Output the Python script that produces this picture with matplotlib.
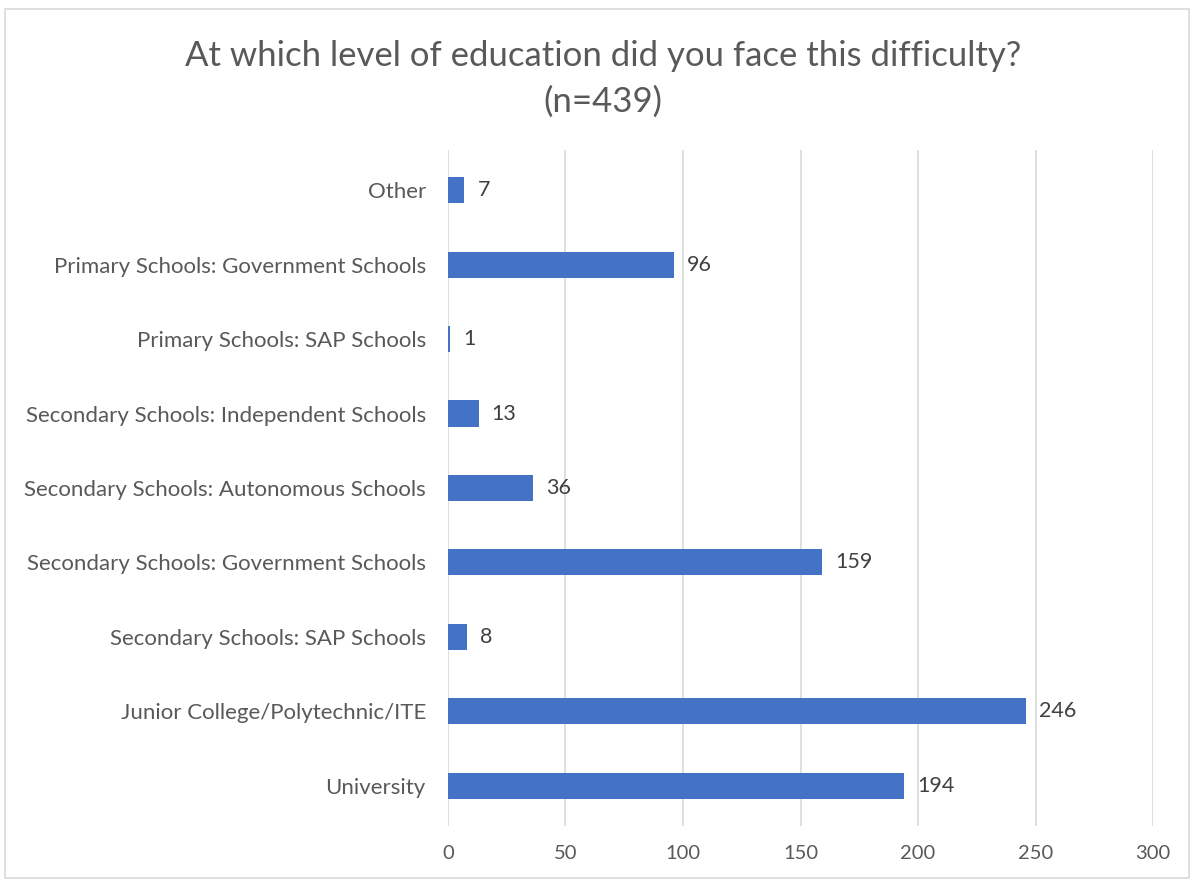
import matplotlib.pyplot as plt
from matplotlib.patches import Rectangle

categories = [
    'Other',
    'Primary Schools: Government Schools',
    'Primary Schools: SAP Schools',
    'Secondary Schools: Independent Schools',
    'Secondary Schools: Autonomous Schools',
    'Secondary Schools: Government Schools',
    'Secondary Schools: SAP Schools',
    'Junior College/Polytechnic/ITE',
    'University',
]
counts = [7, 96, 1, 13, 36, 159, 8, 246, 194]
xticks = [0, 50, 100, 150, 200, 250, 300]

plt.rcParams['font.family'] = ['Lato', 'DejaVu Sans']

fig = plt.figure(figsize=(11.94, 8.82), dpi=100)
ax = fig.add_axes([0.3752, 0.0635, 0.5905, 0.7665])

# outer chart frame
fig.patches.append(Rectangle((0.004, 0.004), 0.992, 0.986, transform=fig.transFigure,
                             fill=False, edgecolor='#d9d9d9', linewidth=1.2))

pos = list(range(len(categories)))
ax.barh(pos, counts, height=0.35, color='#4472C4', zorder=3)
for p, v in zip(pos, counts):
    ax.annotate(str(v), (v, p), xytext=(9.5, 0), textcoords='offset points',
                va='center', ha='left', fontsize=15.5, color='#404040')

ax.set_xlim(0, 300)
ax.set_ylim(len(categories) - 0.46, -0.54)
ax.set_xticks(xticks)
ax.set_yticks(pos)
ax.set_yticklabels(categories)
ax.tick_params(axis='y', length=0, pad=16, labelsize=16, labelcolor='#595959')
ax.tick_params(axis='x', length=0, pad=14, labelsize=14.5, labelcolor='#595959')
ax.grid(axis='x', color='#d9d9d9', linewidth=1.2, zorder=0)
for s in ax.spines.values():
    s.set_visible(False)

fig.text(0.505, 0.936, 'At which level of education did you face this difficulty?',
         ha='center', va='center', fontsize=25, color='#595959')
fig.text(0.505, 0.885, '(n=439)', ha='center', va='center', fontsize=25, color='#595959')

fig.savefig('out.png', dpi=100)
